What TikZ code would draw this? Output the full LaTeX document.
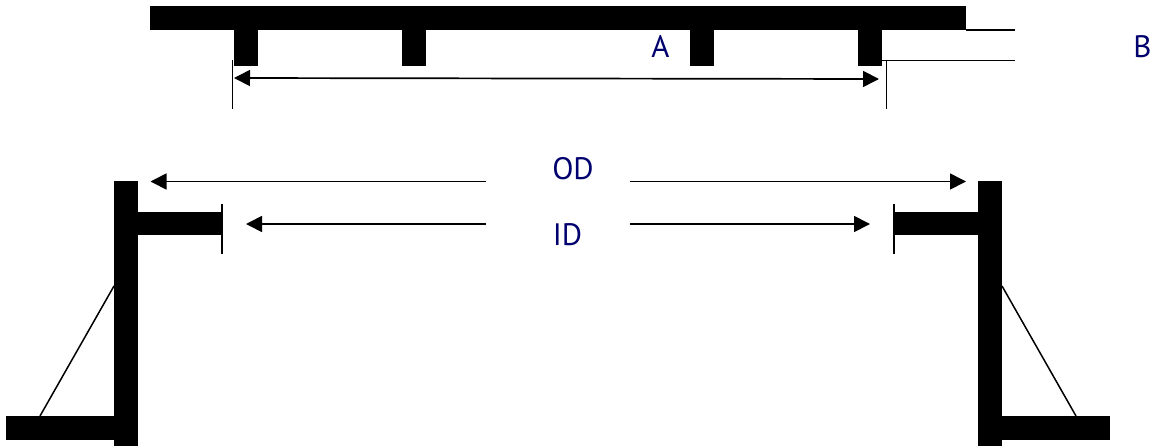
\documentclass[tikz,border=0pt]{standalone}
\usepackage{fontspec}
\setmainfont{PT Sans}
\usetikzlibrary{arrows.meta}
\definecolor{labelnavy}{RGB}{0,0,110}
\tikzset{
  solidpart/.style={fill=black,draw=none},
  thinline/.style={draw=black,line width=1.5pt},
  dimarrow/.style={draw=black,line width=1.7pt,-{Triangle[length=16pt,width=16pt]},shorten >=0pt},
  dimboth/.style={draw=black,line width=1.7pt,{Triangle[length=16pt,width=16pt]}-{Triangle[length=16pt,width=16pt]}},
  lbl/.style={text=labelnavy,font=\fontsize{31}{36}\selectfont,inner sep=0pt}
}
\begin{document}
\begin{tikzpicture}[x=1pt,y=-1pt]
\useasboundingbox (0,0) rectangle (1151,447);
% top flange with teeth
\fill[solidpart] (150,6) rectangle (966,30);
\fill[solidpart] (234,30) rectangle (258,66);
\fill[solidpart] (402,30) rectangle (426,66);
\fill[solidpart] (690,30) rectangle (714,66);
\fill[solidpart] (858,30) rectangle (882,66);
% free ends
\coordinate (barend) at (966,30);
\coordinate (barfree) at (1015,30);
\coordinate (toothend) at (882,60.5);
\coordinate (toothfree) at (1015,60.5);
\coordinate (ltop) at (232.5,60);
\coordinate (lbot) at (232.5,109);
\coordinate (rtop) at (886.5,60.5);
\coordinate (rbot) at (886.5,109);
\coordinate (dimL) at (234,78);
\coordinate (dimR) at (879,79);
\draw[thinline] (barend) -- (barfree);
\draw[thinline] (toothend) -- (toothfree);
\draw[thinline] (ltop) -- (lbot);
\draw[thinline] (rtop) -- (rbot);
\draw[dimboth] (dimL) -- (dimR);
% left bracket
\fill[solidpart] (114,181) rectangle (138,446);
\fill[solidpart] (138,212) rectangle (222,235);
\fill[solidpart] (6,416) rectangle (114,440);
% right bracket
\fill[solidpart] (978,181) rectangle (1002,446);
\fill[solidpart] (894,212) rectangle (978,235);
\fill[solidpart] (1002,416) rectangle (1110,440);
% ticks and struts
\coordinate (ltickT) at (222,204);
\coordinate (ltickB) at (222,254);
\coordinate (rtickT) at (894,204);
\coordinate (rtickB) at (894,254);
\coordinate (lstrutT) at (114,286);
\coordinate (lstrutB) at (40,416);
\coordinate (rstrutT) at (1002,286);
\coordinate (rstrutB) at (1076,416);
\draw[thinline] (ltickT) -- (ltickB);
\draw[thinline] (rtickT) -- (rtickB);
\draw[thinline] (lstrutT) -- (lstrutB);
\draw[thinline] (rstrutT) -- (rstrutB);
% labels
\node[lbl] (A) at (660.5,46.5) {A};
\node[lbl] (B) at (1142.5,47) {B};
\node[lbl] (OD) at (573,169) {OD};
\node[lbl] (ID) at (567.5,234.5) {ID};
% dimension arrows
\coordinate (odLtail) at (486,181.5);
\coordinate (odLtip) at (150.5,181.5);
\coordinate (odRtail) at (630,181.5);
\coordinate (odRtip) at (966,181.5);
\coordinate (idLtail) at (486,224);
\coordinate (idLtip) at (246,224);
\coordinate (idRtail) at (630,224);
\coordinate (idRtip) at (870,224);
\draw[dimarrow] (odLtail) -- (odLtip);
\draw[dimarrow] (odRtail) -- (odRtip);
\draw[dimarrow] (idLtail) -- (idLtip);
\draw[dimarrow] (idRtail) -- (idRtip);
\end{tikzpicture}
\end{document}
